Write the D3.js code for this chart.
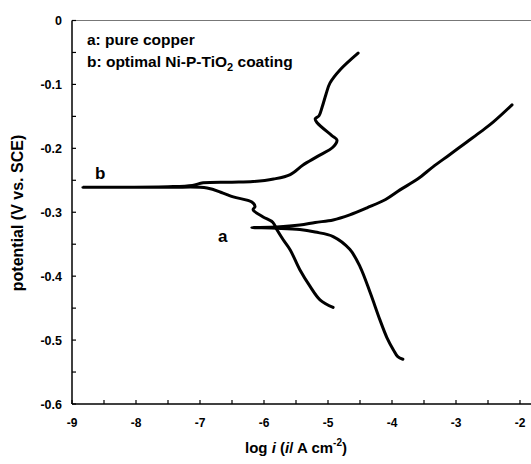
<!DOCTYPE html>
<html><head><meta charset="utf-8">
<script src="https://cdn.jsdelivr.net/npm/d3@7"></script>
<style>body{margin:0;background:#fff}svg{display:block}text{font-family:"Liberation Sans",Arial,sans-serif;font-weight:bold;fill:#000}</style>
</head><body>
<svg id="c" width="531" height="464"></svg>
<script>
// Curve a: pure copper (cathodic end -> Ecorr -> anodic end)
const aLogI = [-3.83,-3.91,-3.98,-4.08,-4.19,-4.34,-4.50,-4.66,-4.92,-5.20,-5.44,-5.80,-6.19,
               -5.80,-5.44,-5.20,-4.92,-4.66,-4.39,-4.10,-3.875,-3.60,-3.36,-3.10,-2.83,-2.60,-2.42,-2.125];
const aPotential = [-0.530,-0.526,-0.515,-0.496,-0.468,-0.426,-0.385,-0.358,-0.338,-0.331,-0.327,-0.325,-0.324,
               -0.323,-0.320,-0.316,-0.312,-0.304,-0.293,-0.280,-0.265,-0.248,-0.229,-0.210,-0.190,-0.173,-0.159,-0.132];
// Curve b: optimal Ni-P-TiO2 coating
const bLogI = [-4.92,-5.125,-5.28,-5.44,-5.59,-5.70,-5.80,-5.86,-6.02,-6.17,-6.14,-6.19,-6.48,-6.64,-6.89,-7.5,-8.83,
               -7.5,-7.12,-6.95,-6.5,-6.17,-5.85,-5.59,-5.39,-5.17,-4.92,-4.86,-4.94,-5.17,-5.20,-5.14,-5.09,-5.03,-4.97,-4.81,-4.53];
const bPotential = [-0.449,-0.437,-0.416,-0.390,-0.359,-0.343,-0.327,-0.316,-0.307,-0.296,-0.291,-0.284,-0.276,-0.270,-0.262,-0.261,-0.261,
               -0.260,-0.258,-0.254,-0.253,-0.252,-0.248,-0.241,-0.226,-0.213,-0.198,-0.187,-0.180,-0.160,-0.154,-0.149,-0.135,-0.115,-0.098,-0.077,-0.051];
const xTicks = [-9,-8,-7,-6,-5,-4,-3,-2];
const yTicks = [0,-0.1,-0.2,-0.3,-0.4,-0.5,-0.6];
const legendLines = ["a: pure copper","b: optimal Ni-P-TiO"];

const svg = d3.select("#c");
const L = 72, R = 520, T = 20.5, B = 404;
const x = d3.scaleLinear().domain([-9,-2]).range([L,R]);
const y = d3.scaleLinear().domain([0,-0.6]).range([T,B]);
const hy = s => String(s).replace("\u2212","-");

// top frame line
svg.append("line").attr("x1",L).attr("x2",531).attr("y1",T).attr("y2",T).attr("stroke","#777").attr("stroke-width",1.2);

// axes
const xMinor = d3.range(-9,-1.49,0.5);
const gx = svg.append("g").attr("transform",`translate(0,${B})`);
gx.append("line").attr("x1",L).attr("x2",531).attr("stroke","#000").attr("stroke-width",1.5);
gx.selectAll("line.t").data(xMinor).join("line").attr("class","t")
  .attr("x1",d=>x(d)).attr("x2",d=>x(d)).attr("y1",0).attr("y2",-4).attr("stroke","#000").attr("stroke-width",1.2);
gx.selectAll("text").data(xTicks).join("text").attr("x",d=>x(d)).attr("y",23)
  .attr("text-anchor","middle").attr("font-size",12).text(d=>hy(d));

const yMinor = d3.range(0,-0.6001,-0.05);
const gy = svg.append("g").attr("transform",`translate(${L},0)`);
gy.append("line").attr("y1",T).attr("y2",B).attr("stroke","#000").attr("stroke-width",1.5);
gy.selectAll("line.t").data(yMinor).join("line").attr("class","t")
  .attr("y1",d=>y(d)).attr("y2",d=>y(d)).attr("x1",0).attr("x2",4).attr("stroke","#000").attr("stroke-width",1.2);
gy.selectAll("text").data(yTicks).join("text").attr("x",-10).attr("y",d=>y(d)+4.5)
  .attr("text-anchor","end").attr("font-size",12.5).text(d=>d===0?"0":hy(d3.format(".1f")(d)));

// curves
const line = d3.line().x(d=>x(d[0])).y(d=>y(d[1])).curve(d3.curveCatmullRom.alpha(0.5));
[[aLogI,aPotential],[bLogI,bPotential]].forEach(([xs,ys])=>{
  svg.append("path").datum(xs.map((v,i)=>[v,ys[i]])).attr("d",line)
    .attr("fill","none").attr("stroke","#000").attr("stroke-width",3).attr("stroke-linejoin","round").attr("stroke-linecap","round");
});

// labels
svg.append("text").attr("x",95).attr("y",179).attr("font-size",17).text("b");
svg.append("text").attr("x",218).attr("y",242).attr("font-size",17).text("a");

// legend
svg.append("text").attr("x",87).attr("y",45).attr("font-size",15.5).text(legendLines[0]);
const lg = svg.append("text").attr("x",87).attr("y",67).attr("font-size",15.5);
lg.append("tspan").text(legendLines[1]);
lg.append("tspan").attr("font-size",11).attr("dy",3.5).text("2");
lg.append("tspan").attr("dy",-3.5).text(" coating");

// axis titles
const xt = svg.append("text").attr("x",296).attr("y",453).attr("text-anchor","middle").attr("font-size",15);
xt.append("tspan").text("log ");
xt.append("tspan").attr("font-style","italic").text("i");
xt.append("tspan").text(" (");
xt.append("tspan").attr("font-style","italic").text("i");
xt.append("tspan").text("/ A cm");
xt.append("tspan").attr("font-size",10).attr("dy",-7).text("-2");
xt.append("tspan").attr("dy",7).text(")");

svg.append("text").attr("transform","translate(23,213) rotate(-90)").attr("text-anchor","middle")
  .attr("font-size",16).text("potential (V vs. SCE)");
</script>
</body></html>
